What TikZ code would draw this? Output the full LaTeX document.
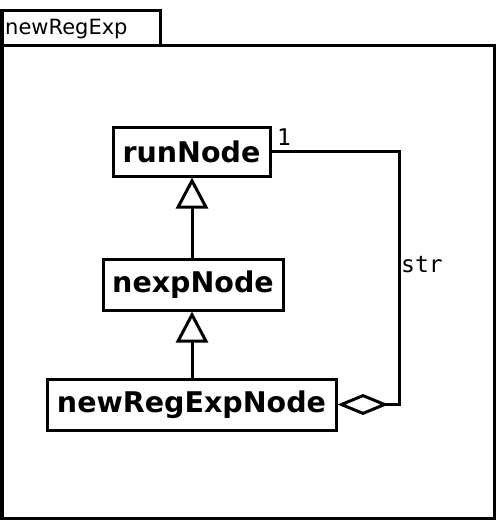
\documentclass[tikz,border=0pt]{standalone}
\usepackage{fontspec}
\setmainfont{DejaVu Sans}
\setmonofont{DejaVu Sans Mono}
\usetikzlibrary{arrows.meta}
\tikzset{
  frameline/.style={draw=black, line width=3pt},
  classbox/.style={draw=black, line width=3pt, fill=white, inner sep=0pt,
    font=\fontsize{28.5}{34}\selectfont\bfseries},
  genarrow/.style={draw=black, line width=3pt,
    -{Triangle[open, length=31pt, width=32pt, line width=3pt]}},
  aggline/.style={draw=black, line width=3pt,
    {Diamond[open, length=51pt, width=21pt, line width=3pt]}-},
  lbl/.style={inner sep=0pt, font=\fontsize{23}{27}\selectfont\ttfamily},
  tablbl/.style={inner sep=0pt, anchor=west, font=\fontsize{21}{25}\selectfont}
}
\begin{document}
\begin{tikzpicture}[x=1pt,y=-1pt]
\useasboundingbox (0,0) rectangle (496,531);
% package frame
\draw[frameline] (2,45) rectangle (494,518);
\draw[frameline] (2,10) rectangle (160,45);
\node[tablbl] (pkg) at (5,29) {newRegExp};
% classes
\node[classbox, minimum width=157pt, minimum height=49pt] (run) at (191.5,151.5) {runNode};
\node[classbox, minimum width=180pt, minimum height=51pt] (nexp) at (193,284.5) {nexpNode};
\node[classbox, minimum width=289pt, minimum height=51pt] (nre) at (191.5,404.5) {newRegExpNode};
% generalizations
\draw[genarrow] (nexp.north -| 192,0) -- (run.south -| 192,0);
\draw[genarrow] (nre.north -| 192,0) -- (nexp.south -| 192,0);
% aggregation
\coordinate (c1) at (399,151.5);
\coordinate (c2) at (399,404.5);
\draw[aggline] (nre.east) -- (c2) -- (c1) -- (run.east);
\node[lbl] (one) at (284,137) {1};
\node[lbl] (str) at (422,265) {str};
\end{tikzpicture}
\end{document}
